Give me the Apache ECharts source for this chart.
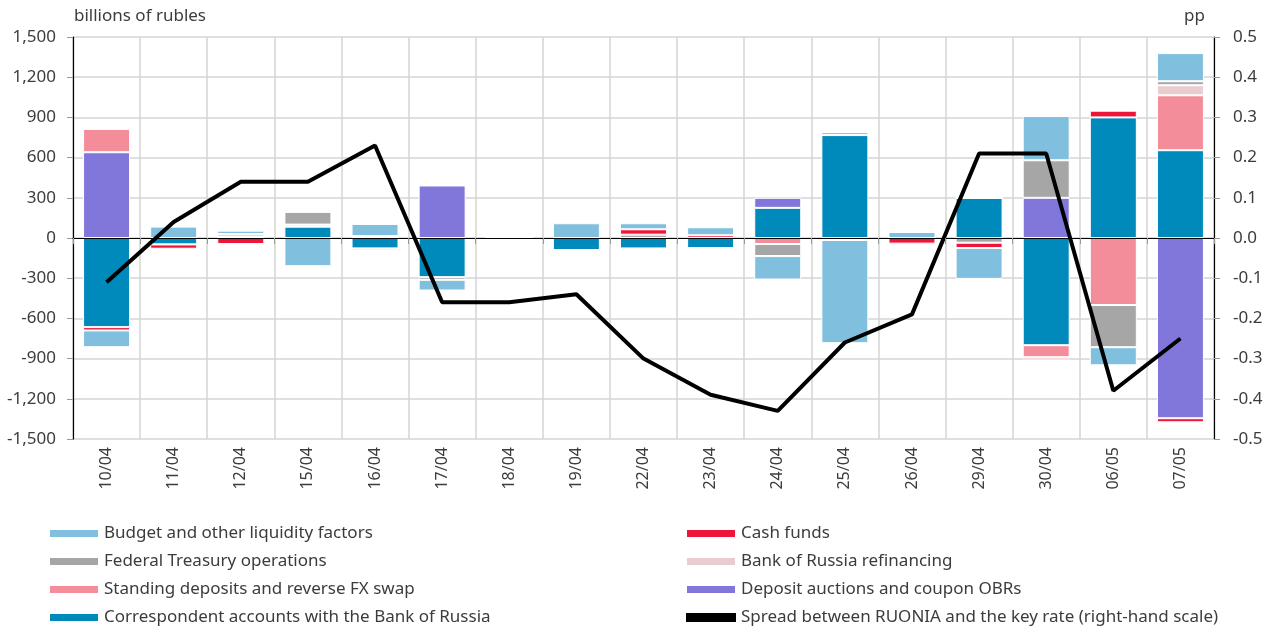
<!DOCTYPE html>
<html>
<head>
<meta charset="utf-8">
<script src="https://cdn.jsdelivr.net/npm/echarts@6/dist/echarts.min.js"></script>
<style>
    html, body { margin: 0; padding: 0; background: #fff; }
    #chart { width: 1277px; height: 629px; }
</style>
</head>
<body>
<div id="chart"></div>
<script>
    // categories (dates)
    var categories = ['10/04','11/04','12/04','15/04','16/04','17/04','18/04','19/04','22/04','23/04','24/04','25/04','26/04','29/04','30/04','06/05','07/05'];

    // bar series, billions of rubles
    var correspondent = [-665, -48, 0, 85, -78, -292, 0, -90, -78, -75, 225, 768, 0, 300, -800, 900, 655];
    var depositAuctions = [640, 0, 0, 0, 0, 392, 0, 0, 0, 0, 75, 0, 0, 0, 300, 0, -1345];
    var standingDeposits = [175, 0, 0, 0, 0, 0, 0, -12, -12, 0, -45, 22, 0, 0, -90, -500, 410];
    var refinancing = [0, 0, 12, 15, -15, 0, 0, 0, -10, 0, 0, 0, 0, 0, 0, 0, 75];
    var federalTreasury = [0, 0, 18, 95, 15, -20, 0, 0, 25, 0, -90, 0, 0, -35, 280, -315, 30];
    var cashFunds = [-25, -32, -45, 0, 0, 0, 0, 0, 40, 20, 0, -15, -42, -40, -15, 50, -30];
    var budget = [-125, 85, 25, -210, 90, -80, 8, 110, 45, 60, -175, -770, 45, -230, 330, -135, 210];

    // line, pp (right-hand scale)
    var spread = [-0.11, 0.04, 0.14, 0.14, 0.23, -0.16, -0.16, -0.14, -0.30, -0.39, -0.43, -0.26, -0.19, 0.21, 0.21, -0.38, -0.25];

    var font = 'Noto Sans';
    var textColor = '#3c3c3c';
    var gridColor = '#d4d4d4';

    var barSeries = function (name, data, color) {
        return {
            name: name,
            type: 'bar',
            stack: 'total',
            barWidth: '70%',
            data: data,
            itemStyle: { color: color, borderColor: '#fff', borderWidth: 1 }
        };
    };

    var myChart = echarts.init(document.getElementById('chart'));

    var option = {
        animation: false,
        textStyle: { fontFamily: font },
        title: [
            { text: 'billions of rubles', left: 74, top: 8, padding: 0, textStyle: { fontSize: 17, fontWeight: 'normal', color: textColor, fontFamily: font } },
            { text: 'pp', left: 1184, top: 8, padding: 0, textStyle: { fontSize: 17, fontWeight: 'normal', color: textColor, fontFamily: font } }
        ],
        grid: { left: 73, right: 63, top: 37, bottom: 190 },
        legend: [
            {
                orient: 'vertical', left: 48, top: 525, padding: 0, itemWidth: 50, itemHeight: 9, itemGap: 11,
                icon: 'rect',
                textStyle: { fontSize: 17, color: textColor, fontFamily: font },
                data: ['Budget and other liquidity factors', 'Federal Treasury operations', 'Standing deposits and reverse FX swap', 'Correspondent accounts with the Bank of Russia']
            },
            {
                orient: 'vertical', left: 685, top: 525, padding: 0, itemWidth: 50, itemHeight: 9, itemGap: 11,
                icon: 'rect',
                textStyle: { fontSize: 17, color: textColor, fontFamily: font },
                data: ['Cash funds', 'Bank of Russia refinancing', 'Deposit auctions and coupon OBRs', 'Spread between RUONIA and the key rate (right-hand scale)']
            }
        ],
        xAxis: [
            {
                type: 'category',
                data: categories,
                axisLine: { show: false, onZero: false },
                axisTick: { show: false },
                splitLine: { show: true, lineStyle: { color: gridColor, width: 1.5 } },
                axisLabel: { rotate: 90, fontSize: 16, color: textColor, margin: 8, fontFamily: font }
            },
            {
                type: 'category',
                data: categories,
                position: 'bottom',
                z: 10,
                axisLine: { show: true, onZero: true, lineStyle: { color: '#000', width: 1.2 } },
                axisTick: { show: true, length: 6, lineStyle: { color: '#999' } },
                axisLabel: { show: false },
                splitLine: { show: false }
            }
        ],
        yAxis: [
            {
                type: 'value',
                min: -1500,
                max: 1500,
                interval: 300,
                axisLine: { show: true, lineStyle: { color: '#000', width: 1.2 } },
                axisTick: { show: true, length: 6, lineStyle: { color: '#999' } },
                splitLine: { show: true, lineStyle: { color: gridColor, width: 1.5 } },
                axisLabel: {
                    fontSize: 17, color: textColor, margin: 17, fontFamily: font,
                    formatter: function (v) { return v.toLocaleString('en-US'); }
                }
            },
            {
                type: 'value',
                min: -0.5,
                max: 0.5,
                interval: 0.1,
                axisLine: { show: true, lineStyle: { color: '#000', width: 1.2 } },
                axisTick: { show: true, length: 6, lineStyle: { color: '#999' } },
                splitLine: { show: false },
                axisLabel: {
                    fontSize: 17, color: textColor, margin: 19, fontFamily: font,
                    formatter: function (v) { return v.toFixed(1); }
                }
            }
        ],
        series: [
            barSeries('Correspondent accounts with the Bank of Russia', correspondent, '#0089bb'),
            barSeries('Deposit auctions and coupon OBRs', depositAuctions, '#8176d9'),
            barSeries('Standing deposits and reverse FX swap', standingDeposits, '#f48d9a'),
            barSeries('Bank of Russia refinancing', refinancing, '#e9cdce'),
            barSeries('Federal Treasury operations', federalTreasury, '#a6a6a6'),
            barSeries('Cash funds', cashFunds, '#ed1539'),
            barSeries('Budget and other liquidity factors', budget, '#80bfdd'),
            {
                name: 'Spread between RUONIA and the key rate (right-hand scale)',
                type: 'line',
                yAxisIndex: 1,
                data: spread,
                symbol: 'none',
                itemStyle: { color: '#000' },
                lineStyle: { color: '#000', width: 4 },
                z: 5
            }
        ]
    };

    myChart.setOption(option);
</script>
</body>
</html>
